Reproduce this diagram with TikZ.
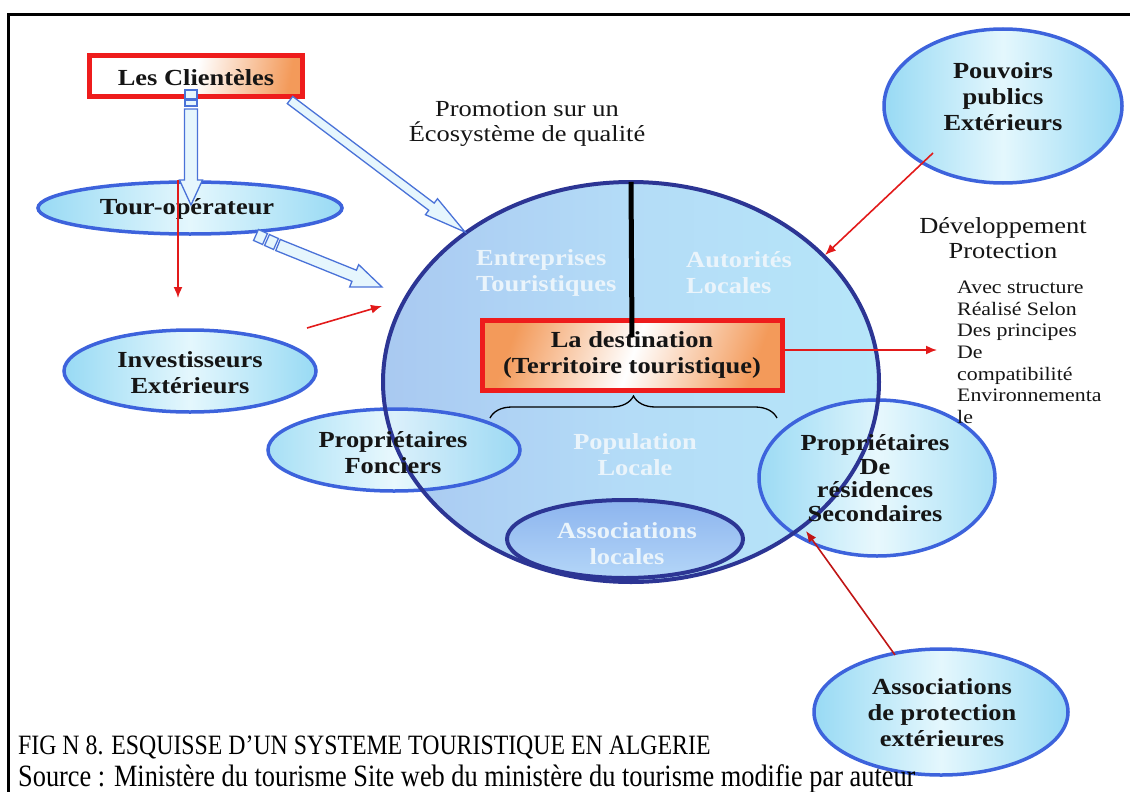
\documentclass[tikz,border=0pt]{standalone}
\usepackage{fontspec}
\setmainfont{Liberation Serif}[FakeStretch=1.15]
\newfontfamily\captfont{Liberation Serif}[FakeStretch=0.85]
\usetikzlibrary{shapes.geometric,arrows.meta,calc,decorations.pathreplacing}
\definecolor{ellblue}{HTML}{3D63DC}
\definecolor{navy}{HTML}{2C3594}
\definecolor{cyedge}{HTML}{98DAF4}
\definecolor{cymid}{HTML}{E4F7FD}
\definecolor{circL}{HTML}{A9C9F1}
\definecolor{circM}{HTML}{B4DCF7}
\definecolor{circR}{HTML}{B6E6F9}
\definecolor{assT}{HTML}{8CB4EE}
\definecolor{assB}{HTML}{B4D6F8}
\definecolor{boxred}{HTML}{EE1C1C}
\definecolor{arrred}{HTML}{E21A1A}
\definecolor{hblue}{HTML}{4A72D8}
\definecolor{hfill}{HTML}{E6F6FD}
\definecolor{txtdark}{HTML}{151515}
\definecolor{wtxt}{HTML}{EAF4FB}
\definecolor{orng}{HTML}{F39A5A}
\newcommand{\myhollowarrow}[5]{%
  \path ($(#2)!#5!(#1)$) coordinate (hb);
  \filldraw[hollow] ($(#1)!#3!90:(#2)$) -- ($(hb)!#3!90:(#2)$) -- ($(hb)!#4!90:(#2)$) -- (#2)
    -- ($(hb)!#4!-90:(#2)$) -- ($(hb)!#3!-90:(#2)$) -- ($(#1)!#3!-90:(#2)$) -- cycle;}
\newcommand{\myhollowseg}[3]{%
  \filldraw[hollow] ($(#1)!#3!90:(#2)$) -- ($(#2)!#3!-90:(#1)$) -- ($(#2)!#3!90:(#1)$) -- ($(#1)!#3!-90:(#2)$) -- cycle;}
\begin{document}
\begin{tikzpicture}[x=1pt,y=-1pt,
  ell/.style={ellipse, draw=ellblue, line width=3.5pt, inner sep=0pt, left color=cyedge, right color=cyedge, middle color=cymid},
  lbl/.style={font=\bfseries\fontsize{23}{26}\selectfont, text=txtdark, align=center, inner sep=0pt},
  wlbl/.style={lbl, text=wtxt},
  plain/.style={font=\fontsize{23}{25}\selectfont, text=txtdark, align=center, inner sep=0pt},
  redbox/.style={rectangle, draw=boxred, line width=5pt, inner sep=0pt},
  redarr/.style={draw=arrred, line width=1.6pt, -{Latex[length=11pt,width=9pt]}},
  hollow/.style={draw=hblue, line width=1.3pt, fill=hfill},
  capt/.style={inner sep=0pt, text=black}]
\useasboundingbox (0,0) rectangle (1130,792);
% frame
\draw[line width=3pt] (8,792) -- (8,15) -- (1130,15);

% main circle fill
\node[ellipse, minimum width=496pt, minimum height=400pt, inner sep=0pt, left color=circL, right color=circR, middle color=circM] (eco) at (631,382) {};

% overlapping ellipses
\node[ell, minimum width=252pt, minimum height=82pt, fill opacity=0.85] (fonc) at (394,450) {};
\node[ell, minimum width=236pt, minimum height=156pt, fill opacity=0.85] (resid) at (877,478) {};

% circle border
\draw[navy, line width=4pt] (eco.center) ellipse [x radius=248, y radius=200];

% associations locales
\node[ellipse, draw=navy, line width=4pt, inner sep=0pt, minimum width=236pt, minimum height=78pt, top color=assT, bottom color=assB] (assloc) at (625,539) {};

% other ellipses
\node[ell, minimum width=304pt, minimum height=52pt] (tour) at (190,208) {};
\node[ell, minimum width=252pt, minimum height=82pt] (inv) at (190,371) {};
\node[ell, minimum width=238pt, minimum height=154pt] (pouv) at (1003,106) {};
\node[ell, minimum width=254pt, minimum height=126pt] (aprot) at (941,712) {};

% labels
\node[lbl] (tourt) at (187,209) {Tour-opérateur};
\node[lbl] (invt) at (190,373) {Investisseurs\\Extérieurs};
\node[lbl] (pouvt) at (1003,97) {Pouvoirs\\publics\\Extérieurs};
\node[lbl] (aprott) at (942,713) {Associations\\de protection\\extérieures};
\node[lbl] (fonct) at (393,453) {Propriétaires\\Fonciers};
\node[lbl, font=\bfseries\fontsize{23}{23.5}\selectfont] (residt) at (875,478) {Propriétaires\\De\\résidences\\Secondaires};
\node[wlbl, align=left, anchor=west] (ent) at (476,273) {Entreprises\\Touristiques};
\node[wlbl, align=left, anchor=west] (aut) at (686,273) {Autorités\\Locales};
\node[wlbl] (pop) at (635,455) {Population\\Locale};
\node[wlbl] (assloct) at (627,544) {Associations\\locales};

% boxes
\node[redbox, minimum width=213pt, minimum height=41pt, left color=white, right color=orng, middle color=white, shading angle=80] (cli) at (196,76) {};
\node[lbl] (clit) at (196,78) {Les Clientèles};
\node[redbox, minimum width=300pt, minimum height=70pt, left color=orng, right color=orng, middle color=white, shading angle=70] (dest) at (632.5,355.5) {};
\node[lbl] (destt) at (632,355) {La destination\\(Territoire touristique)};

% vertical black line
\coordinate (lineend) at (632,337);
\draw[line width=5pt] (eco.north) -- (lineend);

% brace
\coordinate (brl) at (490,418);
\coordinate (brr) at (777,418);
\draw[decorate, decoration={brace, amplitude=22pt}, line width=1.3pt] (brl) -- (brr);

% free texts
\node[plain] (promo) at (527,124) {Promotion sur un\\Écosystème de qualité};
\node[plain] (dev) at (1003,238) {Développement\\Protection};
\node[plain, align=left, anchor=north west, font=\fontsize{19}{21.6}\selectfont] (avec) at (957,281) {Avec structure\\Réalisé Selon\\Des principes\\De\\compatibilité\\Environnementa\\le};

% hollow arrows
\coordinate (b1a) at (191,90); \coordinate (b1b) at (191,99);
\coordinate (b2a) at (191,100); \coordinate (b2b) at (191,106);
\myhollowseg{b1a}{b1b}{6pt}
\myhollowseg{b2a}{b2b}{6pt}
\coordinate (h1s) at (191,109); \coordinate (h1e) at (191,205);
\myhollowarrow{h1s}{h1e}{6.5pt}{11.5pt}{25pt}
\coordinate (h2s) at (290,100); \coordinate (h2e) at (465,232);
\myhollowarrow{h2s}{h2e}{4.5pt}{10pt}{42pt}
\coordinate (s1a) at (256,235); \coordinate (s1b) at (265,239);
\coordinate (s2a) at (267,240); \coordinate (s2b) at (276,244);
\myhollowseg{s1a}{s1b}{6pt}
\myhollowseg{s2a}{s2b}{6pt}
\coordinate (h3s) at (278,245); \coordinate (h3e) at (382,287);
\myhollowarrow{h3s}{h3e}{6pt}{12pt}{30pt}

% red arrows
\coordinate (r1e) at (178,298);
\draw[redarr] (r1e |- tour.north) -- (r1e);
\coordinate (r2s) at (307,328); \coordinate (r2e) at (382,306);
\draw[redarr] (r2s) -- (r2e);
\coordinate (r3s) at (933,153); \coordinate (r3e) at (825,255);
\draw[redarr] (r3s) -- (r3e);
\coordinate (r4e) at (937,350);
\draw[redarr] (r4e -| dest.east) -- (r4e);
\coordinate (r5s) at (895,655); \coordinate (r5e) at (806,531);
\draw[redarr, draw=arrred!85!black] (r5s) -- (r5e);

% caption
\node[capt, anchor=base west, font=\captfont\fontsize{28}{30}\selectfont] (fig) at (18,754) {FIG N 8. ESQUISSE D’UN SYSTEME TOURISTIQUE EN ALGERIE};
\node[capt, anchor=base west, font=\captfont\fontsize{31}{33}\selectfont] (src) at (18,786) {Source : Ministère du tourisme Site web du ministère du tourisme modifie par auteur};
\end{tikzpicture}
\end{document}
